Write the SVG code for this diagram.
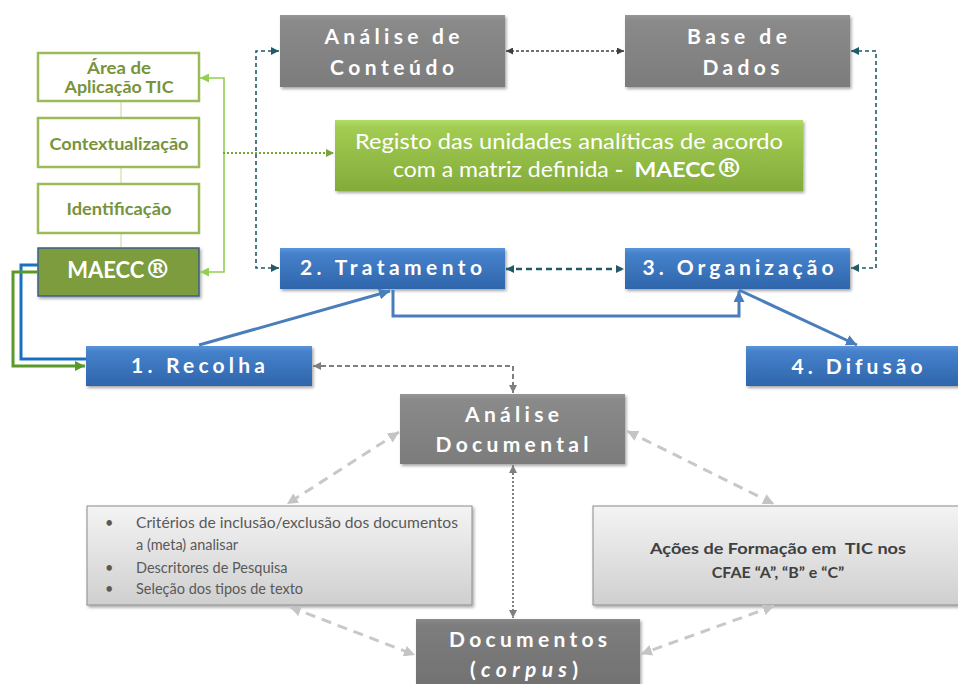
<svg xmlns="http://www.w3.org/2000/svg" width="958" height="684" viewBox="0 0 958 684">
<defs>
<style>
.t{font-family:Lato,"Open Sans","Liberation Sans",sans-serif;font-weight:bold;fill:#fff;text-anchor:middle;}
.big{font-size:21px;}
.g{font-family:Lato,"Open Sans","Liberation Sans",sans-serif;font-weight:bold;fill:#77933c;font-size:17px;text-anchor:middle;}
.lt{font-family:Lato,"Open Sans","Liberation Sans",sans-serif;fill:#595959;font-size:14.5px;}
.rt{font-family:Lato,"Open Sans","Liberation Sans",sans-serif;font-weight:bold;fill:#404040;font-size:16px;text-anchor:middle;white-space:pre;}
.gw{fill:#fff;stroke:#9bbb59;stroke-width:2.5;}
.reg{font-family:'DejaVu Serif',serif;font-size:1.2em;}
.conn{fill:none;}
</style>
<linearGradient id="gGray" x1="0" y1="0" x2="0" y2="1">
<stop offset="0" stop-color="#969696"/><stop offset="0.08" stop-color="#8a8a8a"/><stop offset="1" stop-color="#7c7c7c"/>
</linearGradient>
<linearGradient id="gGray2" x1="0" y1="0" x2="0" y2="1">
<stop offset="0" stop-color="#8a8a8a"/><stop offset="0.08" stop-color="#7d7d7d"/><stop offset="1" stop-color="#707070"/>
</linearGradient>
<linearGradient id="gBlue" x1="0" y1="0" x2="0" y2="1">
<stop offset="0" stop-color="#5a94db"/><stop offset="0.15" stop-color="#4581cb"/><stop offset="1" stop-color="#2f65ab"/>
</linearGradient>
<linearGradient id="gGreen" x1="0" y1="0" x2="0" y2="1">
<stop offset="0" stop-color="#b2dc67"/><stop offset="0.1" stop-color="#a2cc52"/><stop offset="1" stop-color="#83ab3a"/>
</linearGradient>
<linearGradient id="gLight" x1="0" y1="0" x2="0" y2="1">
<stop offset="0" stop-color="#f4f4f4"/><stop offset="1" stop-color="#cfcfcf"/>
</linearGradient>
<filter id="sh" x="-10%" y="-20%" width="130%" height="150%">
<feDropShadow dx="1.5" dy="2" stdDeviation="1.5" flood-color="#000" flood-opacity="0.35"/>
</filter>
<marker id="mTeal" viewBox="0 0 10 10" refX="10" refY="5" markerUnits="userSpaceOnUse" markerWidth="8" markerHeight="8" orient="auto-start-reverse"><path d="M0,0 L10,5 L0,10 z" fill="#215a68"/></marker>
<marker id="mDark" viewBox="0 0 10 10" refX="10" refY="5" markerUnits="userSpaceOnUse" markerWidth="7" markerHeight="7" orient="auto-start-reverse"><path d="M0,0 L10,5 L0,10 z" fill="#404040"/></marker>
<marker id="mBlue" viewBox="0 0 10 10" refX="10" refY="5" markerUnits="userSpaceOnUse" markerWidth="11" markerHeight="11" orient="auto-start-reverse"><path d="M0,0 L10,5 L0,10 z" fill="#4a7ebb"/></marker>
<marker id="mLG" viewBox="0 0 10 10" refX="10" refY="5" markerUnits="userSpaceOnUse" markerWidth="9" markerHeight="9" orient="auto-start-reverse"><path d="M0,0 L10,5 L0,10 z" fill="#92d050"/></marker>
<marker id="mDG" viewBox="0 0 10 10" refX="10" refY="5" markerUnits="userSpaceOnUse" markerWidth="8" markerHeight="8" orient="auto-start-reverse"><path d="M0,0 L10,5 L0,10 z" fill="#77a33c"/></marker>
<marker id="mG2" viewBox="0 0 10 10" refX="10" refY="5" markerUnits="userSpaceOnUse" markerWidth="10" markerHeight="10" orient="auto-start-reverse"><path d="M0,0 L10,5 L0,10 z" fill="#5a9a2a"/></marker>
<marker id="mGray" viewBox="0 0 10 10" refX="10" refY="5" markerUnits="userSpaceOnUse" markerWidth="8" markerHeight="8" orient="auto-start-reverse"><path d="M0,0 L10,5 L0,10 z" fill="#7f7f7f"/></marker>
<marker id="mLight" viewBox="0 0 10 10" refX="10" refY="5" markerUnits="userSpaceOnUse" markerWidth="11" markerHeight="11" orient="auto-start-reverse"><path d="M0,0 L10,5 L0,10 z" fill="#c4c4c4"/></marker>
</defs>
<rect width="958" height="684" fill="#fff"/>

<g id="left-stack-lines" stroke="#c3d69b" stroke-width="1">
<line x1="121" y1="102" x2="121" y2="118"/>
<line x1="121" y1="168" x2="121" y2="183"/>
<line x1="121" y1="233" x2="121" y2="247"/>
</g>

<g id="node-area">
<rect class="gw" x="38" y="53" width="161" height="48"/>
<text class="g" x="119" y="74" textLength="64" lengthAdjust="spacingAndGlyphs">Área de</text>
<text class="g" x="119" y="93" textLength="109" lengthAdjust="spacingAndGlyphs">Aplicação TIC</text>
</g>
<g id="node-contextualizacao">
<rect class="gw" x="38" y="118" width="161" height="49"/>
<text class="g" x="119" y="150" textLength="139" lengthAdjust="spacingAndGlyphs">Contextualização</text>
</g>
<g id="node-identificacao">
<rect class="gw" x="38" y="184" width="161" height="49"/>
<text class="g" x="119" y="215" textLength="105" lengthAdjust="spacingAndGlyphs">Identificação</text>
</g>
<g id="node-maecc">
<rect x="38" y="248" width="161" height="48" fill="#7b9c3e" stroke="#3d5f8a" stroke-width="1.5" filter="url(#sh)"/>
<text class="t" x="119" y="278" font-size="22">MAECC<tspan class="reg">®</tspan></text>
</g>

<g id="node-analise-conteudo">
<rect x="280" y="15" width="225" height="72" fill="url(#gGray)" filter="url(#sh)"/>
<text class="t big" x="392" y="44" textLength="135" lengthAdjust="spacing">Análise de</text>
<text class="t big" x="392" y="75" textLength="124" lengthAdjust="spacing">Conteúdo</text>
</g>
<g id="node-base-dados">
<rect x="625" y="15" width="225" height="72" fill="url(#gGray)" filter="url(#sh)"/>
<text class="t big" x="737" y="44" textLength="100" lengthAdjust="spacing">Base de</text>
<text class="t big" x="741" y="75" textLength="77" lengthAdjust="spacing">Dados</text>
</g>
<g id="node-registo">
<rect x="335" y="120" width="468" height="71" fill="url(#gGreen)" filter="url(#sh)"/>
<text x="569" y="149" font-family="Lato,'Open Sans','Liberation Sans',sans-serif" font-size="21" fill="#fff" text-anchor="middle" textLength="428" lengthAdjust="spacingAndGlyphs">Registo das unidades analíticas de acordo</text>
<text x="568" y="177" font-family="Lato,'Open Sans','Liberation Sans',sans-serif" font-size="21" fill="#fff" text-anchor="middle" textLength="350" lengthAdjust="spacingAndGlyphs" style="white-space:pre">com a matriz definida <tspan font-weight="bold">-  MAECC</tspan><tspan font-weight="bold" class="reg">®</tspan></text>
</g>
<g id="node-tratamento">
<rect x="280" y="248" width="225" height="41" fill="url(#gBlue)" filter="url(#sh)"/>
<text class="t big" x="391" y="275" textLength="182" lengthAdjust="spacing">2. Tratamento</text>
</g>
<g id="node-organizacao">
<rect x="625" y="248" width="225" height="41" fill="url(#gBlue)" filter="url(#sh)"/>
<text class="t big" x="738" y="275" textLength="191" lengthAdjust="spacing">3. Organização</text>
</g>
<g id="node-recolha">
<rect x="86" y="346" width="226" height="40" fill="url(#gBlue)" filter="url(#sh)"/>
<text class="t big" x="198" y="373" textLength="134" lengthAdjust="spacing">1. Recolha</text>
</g>
<g id="node-difusao">
<rect x="746" y="346" width="220" height="40" fill="url(#gBlue)" filter="url(#sh)"/>
<text class="t big" x="857" y="374" textLength="131" lengthAdjust="spacing">4. Difusão</text>
</g>
<g id="node-analise-documental">
<rect x="400" y="394" width="225" height="70" fill="url(#gGray)" filter="url(#sh)"/>
<text class="t big" x="512" y="422" textLength="94" lengthAdjust="spacing">Análise</text>
<text class="t big" x="512" y="452" textLength="153" lengthAdjust="spacing">Documental</text>
</g>
<g id="node-criterios">
<rect x="87" y="506" width="385" height="99" fill="url(#gLight)" stroke="#8c8c8c" stroke-width="1" filter="url(#sh)"/>
<text class="lt" x="105" y="528">•</text>
<text class="lt" x="136" y="528" textLength="322" lengthAdjust="spacingAndGlyphs">Critérios de inclusão/exclusão dos documentos</text>
<text class="lt" x="136" y="550">a (meta) analisar</text>
<text class="lt" x="105" y="573">•</text>
<text class="lt" x="136" y="573">Descritores de Pesquisa</text>
<text class="lt" x="105" y="594">•</text>
<text class="lt" x="136" y="594">Seleção dos tipos de texto</text>
</g>
<g id="node-acoes">
<rect x="593" y="506" width="372" height="99" fill="url(#gLight)" stroke="#8c8c8c" stroke-width="1" filter="url(#sh)"/>
<text class="rt" x="778" y="554" textLength="256" lengthAdjust="spacingAndGlyphs">Ações de Formação em  TIC nos</text>
<text class="rt" x="778" y="578">CFAE “A”, “B” e “C”</text>
</g>
<g id="node-documentos">
<rect x="416" y="619" width="224" height="75" fill="url(#gGray2)" filter="url(#sh)"/>
<text class="t big" x="528" y="647" textLength="158" lengthAdjust="spacing">Documentos</text>
<text class="t big" x="524" y="677" textLength="108" lengthAdjust="spacing">(<tspan font-style="italic">corpus</tspan>)</text>
</g>

<g id="connectors" class="conn">
<path d="M279,51 H256 V268 H279" stroke="#215a68" stroke-width="1.6" stroke-dasharray="4 3" fill="none" marker-start="url(#mTeal)" marker-end="url(#mTeal)"/>
<path d="M851,51 H876 V268 H851" stroke="#215a68" stroke-width="1.6" stroke-dasharray="4 3" fill="none" marker-start="url(#mTeal)" marker-end="url(#mTeal)"/>
<path d="M506,51 H624" stroke="#404040" stroke-width="1.3" stroke-dasharray="3 2" fill="none" marker-start="url(#mDark)" marker-end="url(#mDark)"/>
<path d="M506,269 H624" stroke="#215a68" stroke-width="2.4" stroke-dasharray="6 4" fill="none" marker-start="url(#mTeal)" marker-end="url(#mTeal)"/>
<path d="M199,345 L390,291" stroke="#4a7ebb" stroke-width="3" fill="none" marker-end="url(#mBlue)"/>
<path d="M393,290 V316 H739 V291" stroke="#4a7ebb" stroke-width="3" fill="none" marker-end="url(#mBlue)"/>
<path d="M739,290 L857,345" stroke="#4a7ebb" stroke-width="3" fill="none" marker-end="url(#mBlue)"/>
<path d="M200,78 H224 V272 H200" stroke="#92d050" stroke-width="1.6" fill="none" marker-start="url(#mLG)" marker-end="url(#mLG)"/>
<path d="M223,153 H334" stroke="#77a33c" stroke-width="2" stroke-dasharray="2 2" fill="none" marker-end="url(#mDG)"/>
<path d="M38,265 H21 V359 H86" stroke="#1a70c0" stroke-width="3" fill="none"/>
<path d="M38,272 H13 V366 H85" stroke="#5a9a2a" stroke-width="3" fill="none" marker-end="url(#mG2)"/>
<path d="M313,366 H513 V393" stroke="#7f7f7f" stroke-width="2" stroke-dasharray="5 3" fill="none" marker-start="url(#mGray)" marker-end="url(#mGray)"/>
<path d="M513,465 V618" stroke="#7f7f7f" stroke-width="2" stroke-dasharray="2 2" fill="none" marker-start="url(#mGray)" marker-end="url(#mGray)"/>
<path d="M399,432 L287,504" stroke="#c8c8c8" stroke-width="3" stroke-dasharray="10 7" fill="none" marker-start="url(#mLight)" marker-end="url(#mLight)"/>
<path d="M627,431 L774,504" stroke="#c8c8c8" stroke-width="3" stroke-dasharray="10 7" fill="none" marker-start="url(#mLight)" marker-end="url(#mLight)"/>
<path d="M290,607 L415,655" stroke="#c8c8c8" stroke-width="3" stroke-dasharray="10 7" fill="none" marker-start="url(#mLight)" marker-end="url(#mLight)"/>
<path d="M774,606 L641,654" stroke="#c8c8c8" stroke-width="3" stroke-dasharray="10 7" fill="none" marker-start="url(#mLight)" marker-end="url(#mLight)"/>
</g>
</svg>
